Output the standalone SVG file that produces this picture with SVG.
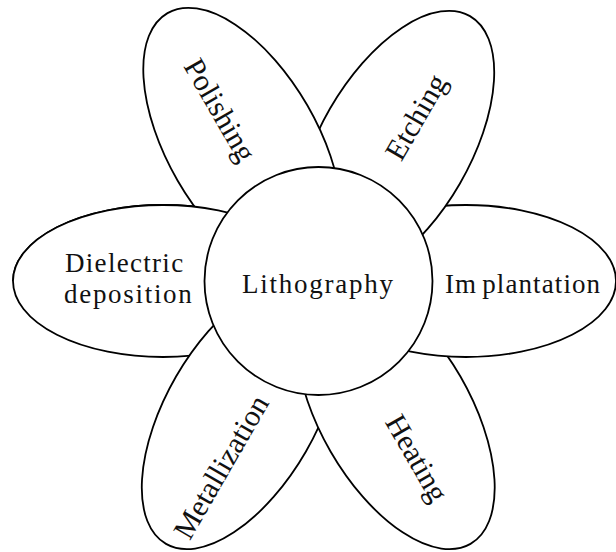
<svg xmlns="http://www.w3.org/2000/svg" xmlns:xlink="http://www.w3.org/1999/xlink" width="616" height="552" viewBox="0 0 616 552">
  <style>
    .petal { fill: #ffffff; stroke: #000000; stroke-width: 1.8; }
    .hub { fill: #ffffff; stroke: #000000; stroke-width: 1.8; }
    .lbl { font-family: "Liberation Serif", "Times New Roman", serif; font-size: 27px; fill: #111111; }
    .rlbl { font-family: "Liberation Serif", "Times New Roman", serif; font-size: 30px; fill: #111111; text-anchor: middle; }
  </style>
  <defs>
    <ellipse id="dielectric-shape" cx="163" cy="281" rx="150" ry="76"/>
    <!-- upper half of the left petal, re-drawn so it laps over the top-left petal -->
    <clipPath id="upper-left">
      <rect x="0" y="150" width="250" height="131"/>
    </clipPath>
  </defs>

  <rect width="616" height="552" fill="#ffffff"/>

  <g id="dielectric-deposition">
    <use xlink:href="#dielectric-shape" class="petal"/>
  </g>

  <g id="metallization">
    <ellipse class="petal" cx="241" cy="414" rx="150" ry="75" transform="rotate(-60 241 414)"/>
    <text class="rlbl" transform="translate(221,467) rotate(-60)" y="10">Metallization</text>
  </g>

  <g id="heating">
    <ellipse class="petal" cx="395.5" cy="414" rx="150" ry="75" transform="rotate(60 395.5 414)"/>
    <text class="rlbl" transform="translate(417,458) rotate(60)" y="10">Heating</text>
  </g>

  <g id="implantation">
    <ellipse class="petal" cx="466" cy="281" rx="150" ry="76"/>
    <text class="lbl" x="445" y="293" letter-spacing="1.1">Im<tspan dx="5">plantation</tspan></text>
  </g>

  <g id="etching">
    <ellipse class="petal" cx="395" cy="146" rx="150" ry="75" transform="rotate(-60 395 146)"/>
    <text class="rlbl" transform="translate(416,117) rotate(-60)" y="10">Etching</text>
  </g>

  <g id="polishing">
    <ellipse class="petal" cx="242.5" cy="143" rx="150" ry="75" transform="rotate(60 242.5 143)"/>
    <text class="rlbl" transform="translate(220,110) rotate(60)" y="10">Polishing</text>
  </g>

  <g id="dielectric-deposition-overlap">
    <use xlink:href="#dielectric-shape" class="petal" clip-path="url(#upper-left)"/>
    <text class="lbl" x="65" y="272" letter-spacing="1.3">Dielectric</text>
    <text class="lbl" x="64" y="303" letter-spacing="1.7">deposition</text>
  </g>

  <g id="lithography">
    <circle class="hub" cx="318.5" cy="281" r="114"/>
    <text class="lbl" x="242" y="293" letter-spacing="1.75">Lithography</text>
  </g>
</svg>
